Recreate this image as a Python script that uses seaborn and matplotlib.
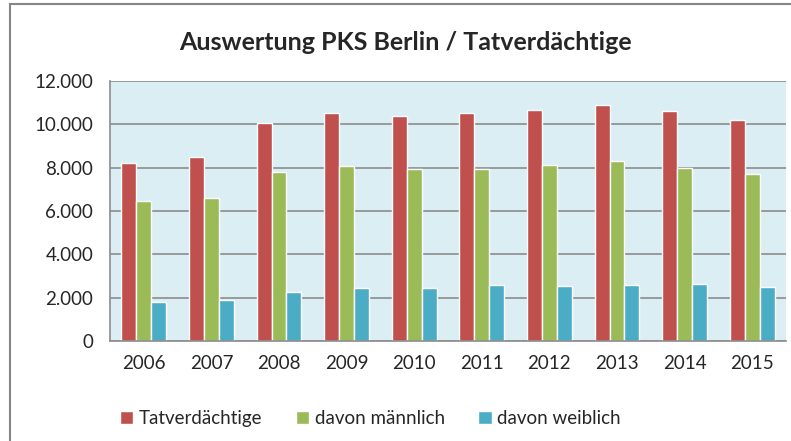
import numpy as np
import pandas as pd
import seaborn as sns
import matplotlib.pyplot as plt
from matplotlib.ticker import FuncFormatter, FixedLocator
from matplotlib.patches import Rectangle

# values
years = ["2006", "2007", "2008", "2009", "2010", "2011", "2012", "2013", "2014", "2015"]
tatverdaechtige = [8200, 8480, 10080, 10520, 10390, 10520, 10660, 10890, 10620, 10200]
maennlich = [6450, 6590, 7800, 8080, 7940, 7940, 8120, 8310, 8000, 7710]
weiblich = [1790, 1880, 2280, 2450, 2450, 2590, 2540, 2590, 2630, 2490]
series = ["Tatverdächtige", "davon männlich", "davon weiblich"]
colors = ["#C0504D", "#9BBB59", "#4BACC6"]

df = pd.DataFrame({
    "Jahr": years * 3,
    "Wert": tatverdaechtige + maennlich + weiblich,
    "Serie": np.repeat(series, len(years)),
})

sns.set_style("white")
plt.rcParams["font.family"] = ["Lato", "DejaVu Sans"]

fig = plt.figure(figsize=(7.91, 4.41), dpi=100)
ax = fig.add_axes([110 / 791, 1 - 341 / 441, (786 - 110) / 791, (341 - 81) / 441])

sns.barplot(data=df, x="Jahr", y="Wert", hue="Serie", palette=colors,
            width=0.66, gap=0, saturation=1, ax=ax, legend=True)

ax.set_facecolor("#DAEEF3")
ax.set_ylim(0, 12000)
ax.set_xlim(-0.5, len(years) - 0.5)
ax.set_yticks(range(0, 12001, 2000))
ax.yaxis.set_major_formatter(FuncFormatter(lambda v, p: f"{int(v):,}".replace(",", ".")))
ax.grid(axis="y", color="#8C8C8C", linewidth=1.2)
ax.set_axisbelow(True)
for s in ["top", "right"]:
    ax.spines[s].set_visible(False)
for s in ["left", "bottom"]:
    ax.spines[s].set_color("#8C8C8C")
    ax.spines[s].set_linewidth(1.2)

ax.tick_params(axis="x", which="major", length=0, pad=10, labelsize=13.5)
ax.xaxis.set_minor_locator(FixedLocator(np.arange(-0.5, len(years), 1)))
ax.tick_params(axis="x", which="minor", length=6, color="#8C8C8C", width=1.2)
ax.tick_params(axis="y", length=6, color="#8C8C8C", width=1.2, pad=6, labelsize=13.5)
ax.set_xlabel("")
ax.set_ylabel("")

ax.legend(loc="upper center", bbox_to_anchor=(0.385, -0.2), ncol=3, frameon=False,
          fontsize=13.5, handlelength=0.7, handleheight=0.7, handletextpad=0.3,
          columnspacing=1.8)

fig.text(405 / 791, 1 - 42 / 441, "Auswertung PKS Berlin / Tatverdächtige",
         ha="center", va="center", fontsize=18, fontweight="bold")

fig.patches.append(Rectangle((10 / 791, -0.05), 1.1, 1 - 4 / 441 + 0.05, transform=fig.transFigure,
                             fill=False, edgecolor="#868686", linewidth=1.5))

fig.savefig("out.png", dpi=100)
